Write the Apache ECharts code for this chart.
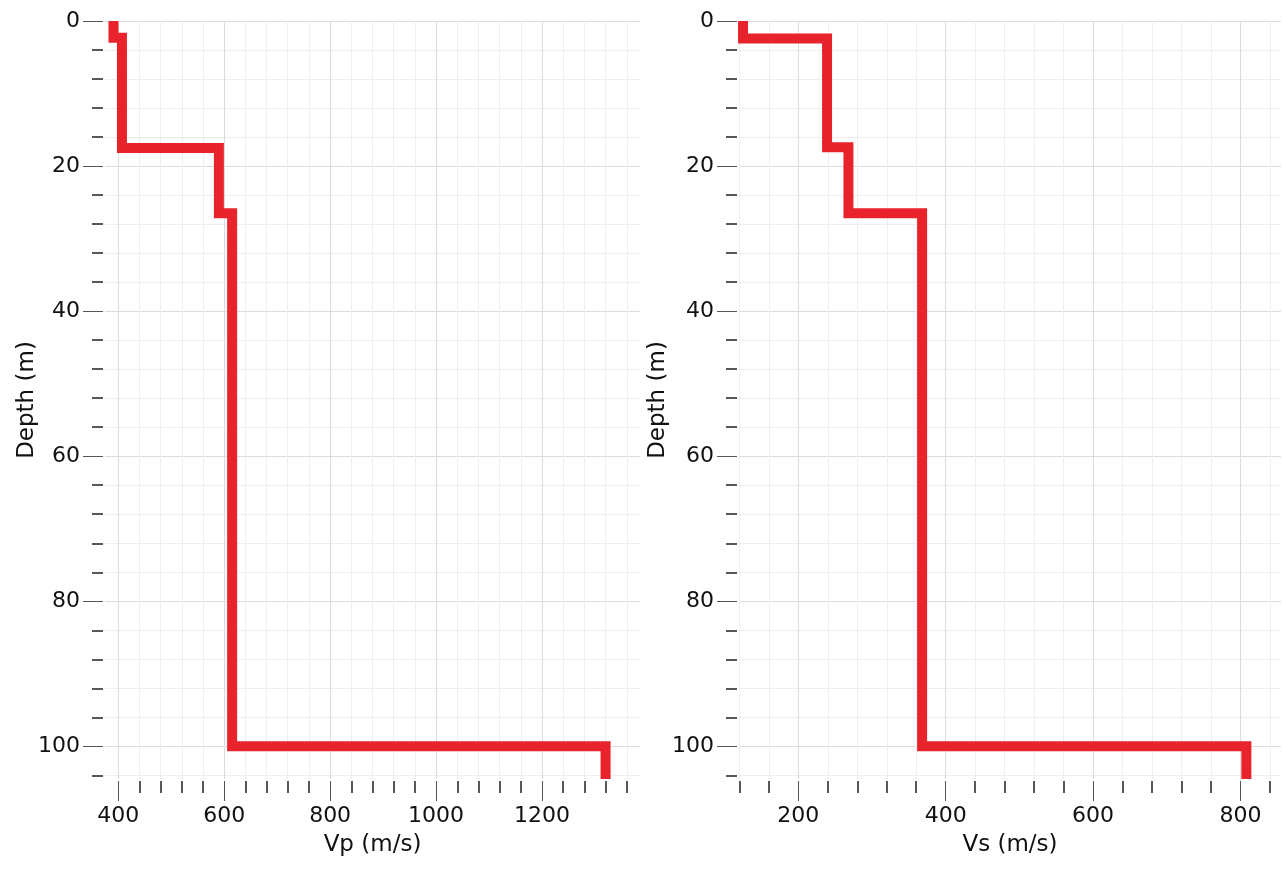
<!DOCTYPE html>
<html>
<head>
<meta charset="utf-8">
<script src="https://cdn.jsdelivr.net/npm/echarts@6/dist/echarts.min.js"></script>
<style>
html,body{margin:0;padding:0;background:#fff;}
#chart{width:1282px;height:875px;}
</style>
</head>
<body>
<div id="chart"></div>
<script>
// Layer model (depth of layer top in m, velocity in m/s)
const vpLayerTops = [0, 2.3, 17.5, 26.5, 100];
const vpValues = [391, 407, 590, 615, 1320];
const vsLayerTops = [0, 2.4, 17.4, 26.5, 100];
const vsValues = [125, 239, 268, 368, 808];
const maxDepth = 104.5;
const vpRange = [375, 1385];
const vsRange = [119.5, 855];
const vpTicks = [400, 600, 800, 1000, 1200];
const vsTicks = [200, 400, 600, 800];
const depthTicks = [0, 20, 40, 60, 80, 100];
const depthTitle = 'Depth (m)';
const vpTitle = 'Vp (m/s)';
const vsTitle = 'Vs (m/s)';

function profile(tops, vals) {
  const pts = [];
  for (let i = 0; i < tops.length; i++) {
    const bottom = i + 1 < tops.length ? tops[i + 1] : maxDepth;
    pts.push([vals[i], tops[i]]);
    pts.push([vals[i], bottom]);
  }
  return pts;
}

const FONT = 'DejaVu Sans';
function labelStyle(ticks, margin) {
  return { color: '#111', fontFamily: FONT, fontSize: 22, margin: margin,
    customValues: ticks, formatter: function (v) { return String(v); } };
}
const nameStyle = { color: '#111', fontFamily: FONT, fontSize: 23 };
const majorTickStyle = { color: '#555', width: 1 };
const minorTickStyle = { color: '#222', width: 1.5 };

function xAxis(idx, range, ticks, name) {
  return {
    type: 'value', gridIndex: idx, position: 'bottom', offset: 2,
    min: range[0], max: range[1], minInterval: 200, maxInterval: 200,
    name: name, nameLocation: 'middle', nameGap: 53, nameTextStyle: nameStyle, nameMoveOverlap: false,
    axisLine: { show: false, onZero: false },
    axisTick: { show: true, inside: false, length: 20, customValues: ticks, lineStyle: majorTickStyle },
    minorTick: { show: true, splitNumber: 5, length: 12, lineStyle: minorTickStyle },
    axisLabel: labelStyle(ticks, 24),
    splitLine: { show: true, lineStyle: { color: '#dcdcdc', width: 1 } },
    minorSplitLine: { show: true, lineStyle: { color: '#eeeeee', width: 1 } }
  };
}
function yAxis(idx, gap) {
  return {
    type: 'value', gridIndex: idx, inverse: true, position: 'left', offset: 2,
    min: 0, max: maxDepth, interval: 20,
    name: depthTitle, nameLocation: 'middle', nameGap: gap, nameTextStyle: nameStyle, nameMoveOverlap: false,
    axisLine: { show: false, onZero: false },
    axisTick: { show: true, inside: false, length: 20, customValues: depthTicks, lineStyle: majorTickStyle },
    minorTick: { show: true, splitNumber: 5, length: 11, lineStyle: minorTickStyle },
    axisLabel: labelStyle(depthTicks, 23),
    splitLine: { show: true, lineStyle: { color: '#dcdcdc', width: 1 } },
    minorSplitLine: { show: true, lineStyle: { color: '#eeeeee', width: 1 } }
  };
}

const lineStyle = { color: '#e8232b', width: 10, cap: 'butt', join: 'miter' };

const chart = echarts.init(document.getElementById('chart'), null, { renderer: 'canvas' });
chart.setOption({
  animation: false,
  backgroundColor: '#ffffff',
  grid: [
    { left: 105, right: 642, top: 21, bottom: 96, outerBoundsMode: 'none', containLabel: false },
    { left: 739, right: 1, top: 21, bottom: 96, outerBoundsMode: 'none', containLabel: false }
  ],
  xAxis: [xAxis(0, vpRange, vpTicks, vpTitle), xAxis(1, vsRange, vsTicks, vsTitle)],
  yAxis: [yAxis(0, 64), yAxis(1, 67)],
  series: [
    { type: 'line', xAxisIndex: 0, yAxisIndex: 0, data: profile(vpLayerTops, vpValues),
      showSymbol: false, symbol: 'none', lineStyle: lineStyle, itemStyle: { color: '#e8232b' } },
    { type: 'line', xAxisIndex: 1, yAxisIndex: 1, data: profile(vsLayerTops, vsValues),
      showSymbol: false, symbol: 'none', lineStyle: lineStyle, itemStyle: { color: '#e8232b' } }
  ]
});
</script>
</body>
</html>
